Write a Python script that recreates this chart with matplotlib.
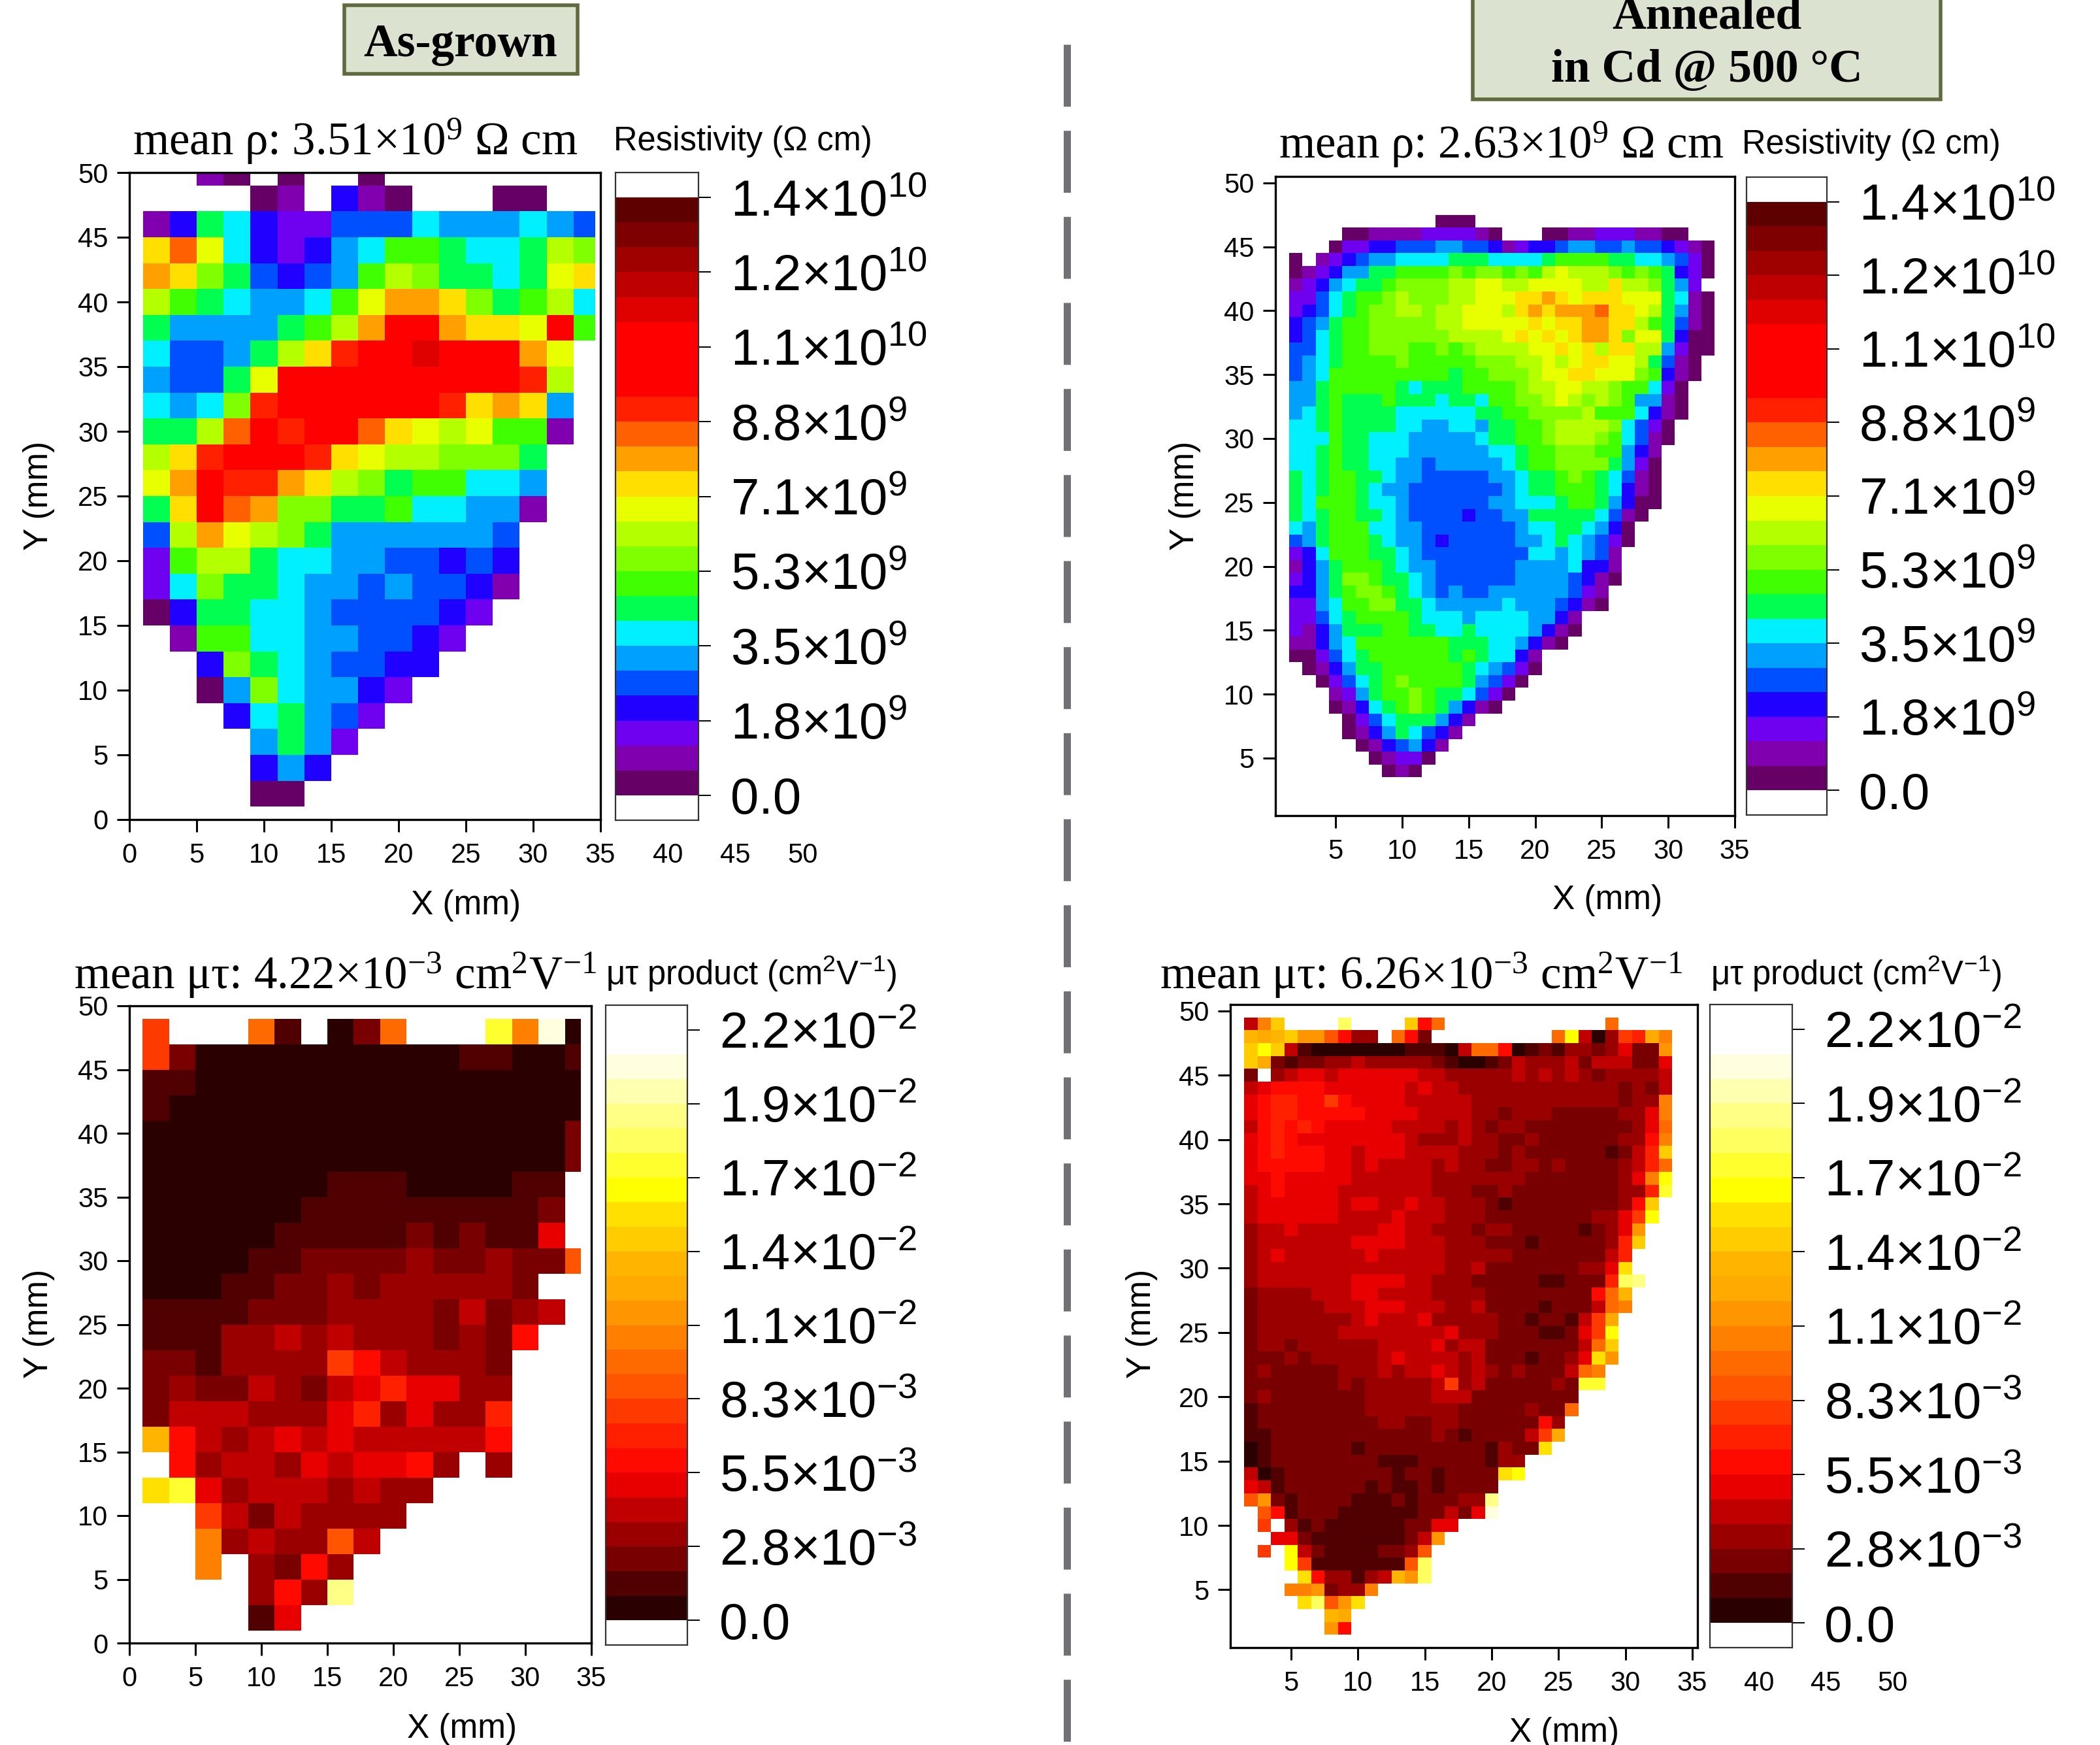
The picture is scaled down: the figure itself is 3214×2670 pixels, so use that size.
import numpy as np
import matplotlib
matplotlib.use('Agg')
import matplotlib.pyplot as plt
from matplotlib.colors import ListedColormap, BoundaryNorm
from matplotlib.lines import Line2D
from matplotlib.patches import Rectangle

WIDTH = 3214
HEIGHT = 2670

# every map cell is one colour band, written as one character per cell:
# 0-9 then a-n is the band number counted from the bottom of the colour bar, '.' is no data.
# spaces inside a row are only there to make it readable
BAND_CHARS = '0123456789abcdefghijklmn'

RHO_COLORS = ['#660066', '#8000b0', '#7000f0', '#2000ff', '#0050ff', '#00a0ff', '#00f0ff', '#00ff50',
              '#40ff00', '#80ff00', '#b4ff00', '#e8ff00', '#ffdf00', '#ffa000', '#ff6000', '#ff2000',
              '#ff0000', '#ff0000', '#ff0000', '#df0000', '#bf0000', '#9f0000', '#7f0000', '#5f0000']
MUT_COLORS = ['#2b0000', '#500000', '#780000', '#9a0000', '#c00000', '#e80000', '#ff0a00', '#ff2000',
              '#ff3a00', '#ff5500', '#ff6a00', '#ff8000', '#ff9500', '#ffaa00', '#ffb500', '#ffcc00',
              '#ffe000', '#ffff00', '#ffff30', '#ffff60', '#ffff85', '#ffffb0', '#ffffe0', '#ffffff']

RHO_MAX = 1.416e10
MUT_MAX = 2.2e-2
RHO_TICK_LABELS = ['0.0', '1.8×10$^{9}$', '3.5×10$^{9}$', '5.3×10$^{9}$', '7.1×10$^{9}$', '8.8×10$^{9}$',
                   '1.1×10$^{10}$', '1.2×10$^{10}$', '1.4×10$^{10}$']
MUT_TICK_LABELS = ['0.0', '2.8×10$^{-3}$', '5.5×10$^{-3}$', '8.3×10$^{-3}$', '1.1×10$^{-2}$', '1.4×10$^{-2}$',
                   '1.7×10$^{-2}$', '1.9×10$^{-2}$', '2.2×10$^{-2}$']

# as-grown resistivity, rows from y=50 down to y=2, 2 mm pitch
RHO_ASGROWN = [
    '..10.0..0........',
    '....01.310...00..',
    '1 3 7 6 3 22 444 6 555 6 5 4',
    'c e b 6 3 2 3 5 6 8 8 7 6 6 7 a 9',
    'd c 9 7 4 3 4 5 8 a 9 7 7 6 7 b c',
    'a 8 7 6 5 5 6 8 b d d c 9 7 8 a 6',
    '7 5 5 5 5 7 8 a d g g d c c b g 8',
    '6 4 4 5 7 a c f g g j g g g d b .',
    '5 4 4 7 b g g g g g g g g g f a .',
    '6 5 6 9 f g g g g g g f c d c 5 .',
    '7 7 a e g f g g e c b a b 8 8 1 .',
    'a c f g g g f c b a a 9 9 9 7 . .',
    'b d g f f d c a 9 7 8 8 6 6 5 . .',
    '7 c g e d 9 9 7 7 8 6 6 5 5 1 . .',
    '4 a d b a 9 7 5 5 5 5 5 5 4 . . .',
    '2 8 a a 7 6 6 5 5 4 4 3 4 3 . . .',
    '2 6 9 7 7 6 5 5 4 5 4 4 3 1 . . .',
    '0 3 7 7 6 6 5 4 4 4 4 3 2 . . . .',
    '. 1 88 66 55 44 3 2 .....',
    '.. 3 9 7 6 5 44 33 ......',
    '.. 0 5 9 6 55 3 2 .......',
    '... 3 6 7 5 4 2 ........',
    '.... 5 7 5 2 .........',
    '.... 353 ..........',
    '.... 00 ...........',
]

# annealed resistivity, rows from y=47 down to y=4, 1 mm pitch
RHO_ANNEALED = [
    '........... 000 ..................',
    '....00 1111 2222 1 0 ... 00 11 222 11 00 ..',
    '...0 22 33 444 55 44 3 1 2 33 4 55 44 5 44 3 2 1 0',
    '0.12 34 55 6666 777 6666 7 8888 77 66 5 4 2 0',
    '0123 55 77 8888 9 8 99 8 9 8 a b aaa 9 8 9 8 7 3 2 0',
    '1235 6 77 8 9999 aa bb aa bbbb aa c aa 9 7 5 2 .',
    '2246 7 88 9 a 999 aa bbb cc d c b ccc bbb 7 6 1 0',
    '2346 7 8 99 aa 9 aa bbb a c d c ddd e cc b a 7 5 1 0',
    '3457 88 99999 aa bbbbb c b cc dd cc a 8 7 4 1 0',
    '3467 88 999999 aaaa b c b c b c dd c 9 bb 7 3 00',
    '4467 88 999 88 9 8 9 aaaa bb c b c a cc aa 5 2 00',
    '4567 8888 9 88888 999 aa b a b cc bb a 7 4 1 0 .',
    '456 888888888 7 88 999 a bb cc bbb 9 8 3 1 0 .',
    '557 88888 7 6 777 8888 9 aa bb aa 9 88 6 2 0 ..',
    '55 7 8 777 8 777 6 77 6 88 99 a b a 9 a 9 8 55 1 0 ..',
    '5678 7777 666666 77 88 9999 a 888 6 3 1 0 ..',
    '667 8 7777 66 55 66 5 77 88 9 aaaa 9 6 4 2 0 ...',
    '666 8 7 7 666 55555 6 77 88 9 aaa 9 8 6 4 1 0 ...',
    '66 7 8 77 666 555555 66 7 88 999 88 5 3 1 ....',
    '66 7 8 77 66 55 4 55555 6 7 88 9999 7 5 2 0 ....',
    '7 6 7 88 77 6 55 44444 55 6 77 8 9 8 7 6 4 1 0 ....',
    '7 6 7 88 7 6 55 4444444 5 6 77 888 7 6 3 1 0 ....',
    '76 888 7 66 5 444444 55 666 7 88 7 5 3 0 0 ....',
    '7 6 7 88 77 6 5 4444 3 44 55 77777 6 4 1 0 .....',
    '6 5 7 888 66 55 4444444 5 66 77 6 5 3 0 ......',
    '4 5 7 888 7 6 55 4 3 44444 55 6 7 6 5 4 2 0 ......',
    '2 3 6 888 77 6 5 44444444 66 5 6 5 4 1 .......',
    '1 3 5 7 888 7 6 55 444444 5555 6 33 1 .......',
    '2357 99 8 77 6 5 444444 5555 4 3 1 0 .......',
    '33 5 7 8 99 8 7 6 5 4 5 44 555555 4 2 1 ........',
    '22 5 6 88 99 77 6 55555 6 555 4 3 1 0 ........',
    '22 4 6 7 8888 7 666 5 6666 55 3 1 ..........',
    '2 1 3 5 777 88 77 66 7 6666 5 3 1 0 ..........',
    '11 3 5 6 8888888 777 66 5 3 1 0 ...........',
    '00 2 4 6 7 888888 7 8 7 66 3 1 .............',
    '.0 1 3 5 77 888888 7 6 5 4 2 0 .............',
    '..0 2 4 6 7 8 9 8888 7 5 4 2 0 ..............',
    '... 1 2 5 7 88 9 8 77 6 4 2 0 ...............',
    '... 0 1 3 6 7 8 9 8 7 5 3 1 0 ................',
    '.... 0 2 4 6 777 5 3 1 ..................',
    '.... 0 1 3 5 7 6 4 3 1 ...................',
    '..... 0 1 3 4 5 3 1 ....................',
    '...... 0 1 22 0 .....................',
    '....... 010 ......................',
]

# as-grown mu-tau, rows from y=48 down to y=2, 2 mm pitch
MUT_ASGROWN = [
    '8...a1.02a...ibm0',
    '8 2 0000000000 11 00 1',
    '11 000000000000000',
    '1 0000000000000000',
    '0000000000000000 2',
    '0000000000000000 2',
    '0000000 111 0000 11 .',
    '000000 111111111 2 .',
    '00000 11111 2 1 2 11 5 .',
    '0000 11 2222 3 22 3 22 9',
    '000 11 22 3 2 33333 2 ..',
    '1111 222 3333 2 4 2 3 4 .',
    '111 33 4 3 4 333 2 3 2 6 ..',
    '22 1 3333 8 6 4 333 2 ...',
    '2 3 22 4 3 2 4 5 7 55 33 ...',
    '2 444 333 5 7 3 5 33 7 ...',
    'e 6 4 3 4 5 4 5 44444 6 ...',
    '. 6 3 44 3 5 4 55 6 3 . 3 ...',
    'g i 5 3 444 3 4 33 ......',
    '.. 8 4 2 4 3333 .......',
    '.. b 3 4 33 9 4 ........',
    '.. b . 3 2 6 3 .........',
    '.... 3 6 3 k .........',
    '.... 1 5 ...........',
]

# annealed mu-tau, rows from y=49 down to y=2, 1 mm pitch
MUT_ANNEALED = [
    '4bf .... j .... f 6 a ............ a ....',
    'ede f cc 9 6 33 . a 6 2 ......... a h 4 0 3 8 7 d b',
    'fhf 4 1 0000000 111 0 4 aa 6 0 1 2 1 33 2 3 5 22 c',
    'fd 2 1 22 33 4 33333 2 1 00 1 2 4 333 4 2 444 22 5',
    '2 . 3 4 55 4 555555 44 33333 4 3 4 3 4 3 2 3333 4',
    '4 5 6666 555555 4 5 44 333333333333 2 3 2 4',
    '5 6 77 66 8 6 5555 44444 33333333333 2 33 b',
    '5 6 77 66666 555 5 4444 33 2 333 22222 33 5 b',
    '4 6 7 6 7 6 55555 4444 3 4 3 2 33 2222222 2 3 5 a',
    '5 6 7 6 5555555 5 4 333 4 33 22 3 222222 33 6 b',
    '5 6 7 666 55 4 555 4444 333 2 3 222222 1 2 4 7 f',
    '5 6 6 666 55 4 5 4444 3 4 33 22 33 2 3 2222 3 4 7 a',
    '55 6 55555 444444 3333333 2222222 3 5 b h',
    '4 5 6 5555 4444444 333 22 3 22222222 33 7 i',
    '4 555555 4 55 44 5 44 333 2 1 22222222 3 6 f .',
    '4 555555 4444 5 444 333 22222222 33 5 8 h .',
    '3 44 5 444444 55 44 333 2 33 22222 1 2 3 5 c ..',
    '3 4444444 5555 444 333 222 1 22222 3 7 f ..',
    '3 4 5 444444 5 44444 33333 2222222 4 7 ...',
    '3 44444444444444 33 4 2222222 33 5 g ...',
    '3 4444444 5555 44 333 22222 11 222 7 j k ..',
    '2 3333 444 55 4444 333 3 2222222 2 6 a e ...',
    '2 33333 44 4 555 444 33 4 2222 1 222 4 a b ...',
    '2 3333333 4 5 444 5 33333 22 1 22 1 4 8 d ....',
    '2 333333 44444444 5 333 222 11 2 5 8 h ....',
    '2 33 2 333333 4444 5 3 44 2222222 4 a f ....',
    '222 3 2 33333 4 5 4444 3 4 222 1 22 3 5 g c ....',
    '2 3 22222 333 4 3 44 5 4 3 4 3 2 3 222 4 a b .....',
    '2222222 3 2 33333 4 8 3 4 22222 3 2 ii .....',
    '2 3 2222222 33333 444 22222222 .......',
    '1 22222222 3333333 22222 3 22 a .......',
    '1 222222222 33 22 33 222222 6 3 ........',
    '11 222222222222 3 2 1 2222 4 8 d ........',
    '0 1 222222 1 222222222 1 3 22 g .........',
    '0 1 22222222 111 22222 1 33 ...........',
    '4 0 1 22222222 1 22 1 2222 g h ...........',
    '5 4 1 222222 1 2 11 2 1 2222 .............',
    '9 c 2 1 2222 111 2 1 222 33 k .............',
    '. 9 6 1 222 111111 22 4 2 5 m .............',
    '. 8 . 3 1 2 111111 22 55 ................',
    '.. 55 2 1111111 2 4 c .................',
    '. 8 . h 4 2 1111 22 3 9 ..................',
    '... h 8 1111111 9 j ..................',
    '.... g 6 33 1 3 4 e c j ..................',
    '... bbc 2 33 b ......................',
    '.... g j 9 c g .......................',
    '...... ed ........................',
    '...... c6 ........................',
]

# last column of the as-grown maps is cut short, right edge in mm
ASGROWN_RHO_LAST_EDGE = 34.6
ASGROWN_MUT_LAST_EDGE = 34.2

plt.rcParams['font.family'] = ['Liberation Sans', 'DejaVu Sans']
plt.rcParams['mathtext.default'] = 'regular'
SERIF = ['Liberation Serif', 'DejaVu Serif']


def frac(left, right, top, bottom):
    # pixel box of the reference -> figure fractions
    return [left / WIDTH, 1 - bottom / HEIGHT, (right - left) / WIDTH, (bottom - top) / HEIGHT]


def put_text(x, y, s, **kw):
    fig.text(x / WIDTH, 1 - y / HEIGHT, s, **kw)


def decode(rows, vmax):
    # band characters -> values at the band centres, NaN where there is no data
    step = vmax / len(BAND_CHARS)
    rows = [r.replace(' ', '') for r in rows]
    out = np.full((len(rows), len(rows[0])), np.nan)
    for r, row in enumerate(rows):
        if len(row) != out.shape[1]:
            raise ValueError('bad row length %d: %d %s' % (r, len(row), row))
        for c, ch in enumerate(row):
            if ch != '.':
                out[r, c] = (BAND_CHARS.index(ch) + 0.5) * step
    return out


def draw_map(box, rows, colors, vmax, xedges, ytop, pitch, xlim, ylim, xticks, yticks):
    ax = fig.add_axes(frac(*box))
    values = decode(rows, vmax)
    yedges = ytop - pitch * np.arange(values.shape[0] + 1)
    cmap = ListedColormap(colors)
    norm = BoundaryNorm(np.linspace(0, vmax, len(colors) + 1), len(colors))
    ax.pcolormesh(xedges, yedges, values, cmap=cmap, norm=norm, linewidth=0, antialiased=False)
    ax.set_xlim(*xlim)
    ax.set_ylim(*ylim)
    ax.set_xticks(xticks)
    ax.set_yticks(yticks)
    ax.tick_params(length=13.5, width=2.2, labelsize=30)
    ax.tick_params(axis='x', pad=12)
    ax.tick_params(axis='y', pad=10)
    for sp in ax.spines.values():
        sp.set_linewidth(2.4)
    return ax


def draw_bar(box, colors, vmax, labels):
    ax = fig.add_axes(frac(*box))
    n = len(colors)
    step = vmax / n
    edges = np.linspace(0, vmax, n + 1)
    centres = (edges[:-1] + edges[1:]) / 2
    ax.pcolormesh([0, 1], edges, centres[:, None], cmap=ListedColormap(colors),
                  norm=BoundaryNorm(edges, n), linewidth=0, antialiased=False)
    ax.set_xlim(0, 1)
    ax.set_ylim(-step, vmax + step)
    ax.set_xticks([])
    ax.yaxis.tick_right()
    ax.set_yticks(np.linspace(0, vmax, len(labels)))
    ax.set_yticklabels(labels)
    ax.tick_params(axis='y', length=14, width=1.4, labelsize=56, pad=21)
    for sp in ax.spines.values():
        sp.set_linewidth(1.6)
        sp.set_color('#333333')
    return ax


def stray_labels(ax, xs):
    # the original keeps printing the x scale past the frame
    for x in xs:
        ax.annotate(str(x), xy=(x, 0), xycoords=ax.get_xaxis_transform(), xytext=(0, -25.5),
                    textcoords='offset points', ha='center', va='top', fontsize=30, annotation_clip=False)


def header(left, right, top, bottom, lines):
    fig.add_artist(Rectangle((left / WIDTH, 1 - bottom / HEIGHT), (right - left) / WIDTH, (bottom - top) / HEIGHT,
                             transform=fig.transFigure, facecolor='#dce2d0', edgecolor='#5f6b3e', linewidth=4))
    for x, y, s in lines:
        put_text(x, y, s, family=SERIF, fontweight='bold', fontsize=51.5, ha='center', va='baseline')


fig = plt.figure(figsize=(WIDTH / 100, HEIGHT / 100), dpi=100, facecolor='white')

edges_rho = np.append(np.arange(1, 35, 2), ASGROWN_RHO_LAST_EDGE)
edges_mut = np.append(np.arange(1, 35, 2), ASGROWN_MUT_LAST_EDGE)
edges_fine = np.arange(1.5, 34.5, 1)
xt0 = np.arange(0, 36, 5)
xt5 = np.arange(5, 36, 5)
yt0 = np.arange(0, 51, 5)
yt5 = np.arange(5, 51, 5)

ax_a = draw_map((198, 919, 264, 1254), RHO_ASGROWN, RHO_COLORS, RHO_MAX, edges_rho, 51, 2, (0, 35), (0, 50), xt0, yt0)
ax_b = draw_map((1952, 2655, 270, 1248), RHO_ANNEALED, RHO_COLORS, RHO_MAX, edges_fine, 47.5, 1, (0.48, 35), (0.5, 50.5), xt5, yt5)
ax_c = draw_map((198, 905, 1539, 2514), MUT_ASGROWN, MUT_COLORS, MUT_MAX, edges_mut, 49, 2, (0, 35), (0, 50), xt0, yt0)
ax_d = draw_map((1883, 2598, 1537, 2521), MUT_ANNEALED, MUT_COLORS, MUT_MAX, edges_fine, 49.5, 1, (0.45, 35.4), (0.5, 50.5), xt5, yt5)

stray_labels(ax_a, [40, 45, 50])
stray_labels(ax_d, [40, 45, 50])

draw_bar((942, 1069, 264, 1255), RHO_COLORS, RHO_MAX, RHO_TICK_LABELS)
draw_bar((2673, 2796, 271, 1247), RHO_COLORS, RHO_MAX, RHO_TICK_LABELS)
draw_bar((927, 1052, 1538, 2517), MUT_COLORS, MUT_MAX, MUT_TICK_LABELS)
draw_bar((2617, 2743, 1537, 2521), MUT_COLORS, MUT_MAX, MUT_TICK_LABELS)

# map titles
title_kw = dict(family=SERIF, fontsize=51, ha='left', va='baseline')
put_text(203, 237, 'mean ρ: 3.51×10$^{9}$ Ω cm', **title_kw)
put_text(1957, 242, 'mean ρ: 2.63×10$^{9}$ Ω cm', **title_kw)
put_text(113, 1513, 'mean μτ: 4.22×10$^{-3}$ cm$^{2}$V$^{-1}$', **title_kw)
put_text(1775, 1513, 'mean μτ: 6.26×10$^{-3}$ cm$^{2}$V$^{-1}$', **title_kw)

bar_kw = dict(fontsize=36.5, ha='left', va='baseline')
put_text(939, 230, 'Resistivity (Ω cm)', **bar_kw)
put_text(2666, 235, 'Resistivity (Ω cm)', **bar_kw)
put_text(927, 1507, 'μτ product (cm$^{2}$V$^{-1}$)', **bar_kw)
put_text(2618, 1507, 'μτ product (cm$^{2}$V$^{-1}$)', **bar_kw)

# axis labels
xl_kw = dict(fontsize=37, ha='center', va='center')
yl_kw = dict(fontsize=37, ha='center', va='center', rotation=90)
for x, y in [(713, 1386), (2460, 1378), (707, 2645), (2394, 2651)]:
    put_text(x, y, 'X (mm)', **xl_kw)
for x, y in [(60, 758), (1813, 758), (60, 2025), (1747, 2025)]:
    put_text(x, y, 'Y (mm)', **yl_kw)

header(527, 884, 8, 113, [(705, 86, 'As-grown')])
header(2254, 2970, -20, 152, [(2612, 43, 'Annealed'), (2612, 125, 'in Cd @ 500 °C')])

# dashed divider between the two columns
fig.add_artist(Line2D([1633 / WIDTH, 1633 / WIDTH], [1 - 68 / HEIGHT, 0], transform=fig.transFigure,
                      color='#707075', linewidth=7.9, linestyle=(0, (95 / 11, 37 / 11)), dash_capstyle='butt'))

fig.savefig('out.png', dpi=100)
plt.close(fig)
